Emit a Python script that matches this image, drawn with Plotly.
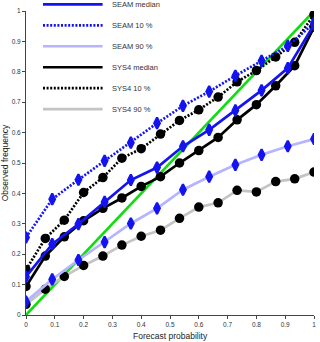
import plotly.graph_objects as go

# forecast probability bins
x_seam = [0, 0.091, 0.182, 0.273, 0.364, 0.455, 0.545, 0.636, 0.727, 0.818, 0.909, 1.0]
x_sys4 = [0, 0.067, 0.133, 0.2, 0.267, 0.333, 0.4, 0.467, 0.533, 0.6, 0.667, 0.733,
          0.8, 0.867, 0.933, 1.0]

# observed frequency
seam_median = [0.126, 0.233, 0.299, 0.372, 0.444, 0.485, 0.555, 0.609, 0.673, 0.739, 0.812, 0.955]
seam_p10 = [0.255, 0.381, 0.445, 0.507, 0.567, 0.631, 0.688, 0.735, 0.787, 0.836, 0.885, 0.96]
seam_p90 = [0.044, 0.117, 0.181, 0.240, 0.301, 0.351, 0.412, 0.455, 0.494, 0.527, 0.555, 0.579]
sys4_median = [0.094, 0.194, 0.257, 0.310, 0.351, 0.385, 0.423, 0.455, 0.500, 0.541, 0.584,
               0.642, 0.692, 0.754, 0.820, 0.947]
sys4_p10 = [0.149, 0.252, 0.312, 0.403, 0.452, 0.516, 0.547, 0.595, 0.640, 0.675, 0.717,
            0.767, 0.804, 0.849, 0.897, 0.988]
sys4_p90 = [0.035, 0.085, 0.127, 0.163, 0.194, 0.230, 0.259, 0.279, 0.318, 0.355, 0.369,
            0.410, 0.405, 0.439, 0.448, 0.470]

diag = [0, 1]
tick_vals = [0, 0.1, 0.2, 0.3, 0.4, 0.5, 0.6, 0.7, 0.8, 0.9, 1]
tick_text = ["0", "0.1", "0.2", "0.3", "0.4", "0.5", "0.6", "0.7", "0.8", "0.9", "1"]

legend_names = ["SEAM median", "SEAM 10 %", "SEAM 90 %", "SYS4 median", "SYS4 10 %", "SYS4 90 %"]

BLUE = "#1414f0"
LBLUE = "#b4b4ff"
GRAY = "#c4c4c4"
GREEN = "#11dd11"
DOT = "2px,1.6px"

legend_colors = [BLUE, BLUE, LBLUE, "black", "black", GRAY]
legend_dash = ["solid", DOT, "solid", "solid", DOT, "solid"]

series = [
    # x, y, line color, dash, marker symbol
    (x_sys4, sys4_p90, GRAY, "solid", "circle"),
    (x_seam, seam_p90, LBLUE, "solid", "diamond-tall"),
    (x_sys4, sys4_p10, "black", DOT, "circle"),
    (x_seam, seam_p10, BLUE, DOT, "diamond-tall"),
    (x_sys4, sys4_median, "black", "solid", "circle"),
    (x_seam, seam_median, BLUE, "solid", "diamond-tall"),
]

fig = go.Figure()

fig.add_trace(go.Scatter(x=diag, y=diag, mode="lines",
                         line=dict(color=GREEN, width=2.6), showlegend=False))

for xs, ys, col, dash, sym in series:
    if sym == "circle":
        mk = dict(symbol=sym, size=9.5, color="black", line=dict(width=0))
    else:
        mk = dict(symbol=sym, size=8, color=BLUE, line=dict(width=2.2, color=BLUE))
    fig.add_trace(go.Scatter(
        x=xs, y=ys, mode="lines+markers",
        line=dict(color=col, width=2.7, dash=dash),
        marker=mk, showlegend=False,
    ))

# hand-drawn legend, top left
for i, name in enumerate(legend_names):
    yy = 1.022 - i * 0.069
    fig.add_shape(type="line", xref="paper", yref="paper",
                  x0=0.059, x1=0.266, y0=yy, y1=yy,
                  line=dict(color=legend_colors[i], width=2.7, dash=legend_dash[i]))
    fig.add_annotation(x=0.29, y=yy, xref="paper", yref="paper", text=name,
                       showarrow=False, xanchor="left", yanchor="middle",
                       font=dict(size=7.5, color="#333"))

fig.add_annotation(x=0.5, y=-0.068, xref="paper", yref="paper", text="Forecast probability",
                   showarrow=False, xanchor="center", yanchor="middle",
                   font=dict(size=8.5, color="#222"))
fig.add_annotation(x=-0.072, y=0.5, xref="paper", yref="paper", text="Observed frequency",
                   showarrow=False, textangle=-90, xanchor="center", yanchor="middle",
                   font=dict(size=8.5, color="#222"))

axis_style = dict(range=[0, 1], tickvals=tick_vals, ticktext=tick_text, ticks="outside",
                  ticklen=3, tickwidth=1, tickcolor="#444", showline=True, linecolor="#444",
                  linewidth=1, showgrid=False, zeroline=False, tickfont=dict(size=6.5, color="#333"))

fig.update_xaxes(**axis_style)
fig.update_yaxes(**axis_style)

fig.update_layout(width=320, height=342, margin=dict(l=26, r=4, t=11, b=27),
                  plot_bgcolor="white", paper_bgcolor="white",
                  font=dict(family="Liberation Sans, Arial, sans-serif"),
                  showlegend=False)

fig.write_html("out.html", config={"displayModeBar": False},
               post_script="document.body.style.margin='0';")
